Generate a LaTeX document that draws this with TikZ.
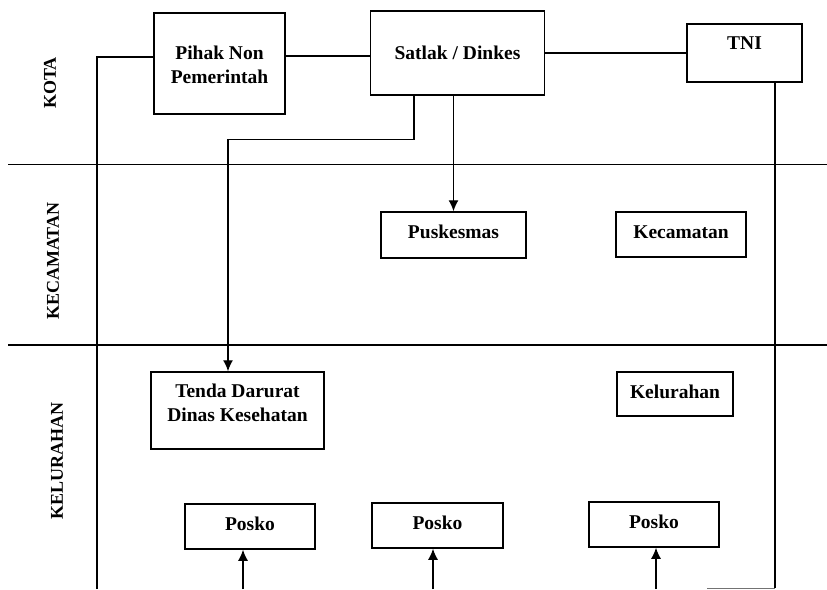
\documentclass[tikz,border=0pt]{standalone}
\usepackage{fontspec}
\setmainfont{Liberation Serif}
\usetikzlibrary{arrows.meta}
\begin{document}
\begin{tikzpicture}[x=1pt,y=-1pt,
  every path/.style={line width=1.3pt},
  box/.style={draw,line width=1.5pt,rectangle,inner sep=0pt,font=\fontsize{19.5}{23}\selectfont\bfseries,align=center},
  txt/.style={inner sep=0pt,font=\fontsize{19.5}{24}\selectfont\bfseries,align=center},
  lane/.style={inner sep=0pt,rotate=90,font=\fontsize{18}{20}\selectfont\bfseries},
  arr/.style={-{Latex[length=11pt,width=10pt]}},
  faint/.style={line width=0.9pt,draw=black!55}]
\useasboundingbox (0,0) rectangle (827,589);
% lane dividers
\coordinate (d1l) at (8,164.5); \coordinate (d1r) at (827,164.5);
\coordinate (d2l) at (8,345); \coordinate (d2r) at (827,345);
\draw (d1l) -- (d1r);
\draw (d2l) -- (d2r);
% lane labels
\node[lane] (kota) at (50,83) {KOTA};
\node[lane] (kec) at (53,261) {KECAMATAN};
\node[lane] (kel) at (57,461) {KELURAHAN};
% boxes
\node[box,minimum width=131,minimum height=101] (pihak) at (219.5,63.5) {};
\node[txt] (pihakt) at (219.5,65) {Pihak Non\\Pemerintah};
\node[box,minimum width=174,minimum height=84] (satlak) at (457.5,53) {Satlak / Dinkes};
\node[box,minimum width=115,minimum height=58] (tni) at (744.5,53) {};
\node[txt] (tnit) at (744.5,43) {TNI};
\node[box,minimum width=145,minimum height=46] (pusk) at (453.5,235) {};
\node[txt] (puskt) at (453.5,232) {Puskesmas};
\node[box,minimum width=130,minimum height=45] (kecb) at (681,234.5) {};
\node[txt] (kecbt) at (681,232) {Kecamatan};
\node[box,minimum width=173,minimum height=77] (tenda) at (237.5,410.5) {};
\node[txt] (tendat) at (237.5,403) {Tenda Darurat\\Dinas Kesehatan};
\node[box,minimum width=116,minimum height=44] (kelb) at (675,394) {};
\node[txt] (kelbt) at (675,392) {Kelurahan};
\node[box,minimum width=130,minimum height=45] (posko1) at (250,526.5) {};
\node[txt] (posko1t) at (250,524) {Posko};
\node[box,minimum width=131,minimum height=45] (posko2) at (437.5,525.5) {};
\node[txt] (posko2t) at (437.5,523) {Posko};
\node[box,minimum width=130,minimum height=45] (posko3) at (654,524.5) {};
\node[txt] (posko3t) at (654,522) {Posko};
% connectors
\coordinate (lb) at (97,589);
\draw (lb) |- ([yshift=6.5]pihak.west);
\draw (pihak.east |- 0,56) -- (satlak.west |- 0,56);
\draw (satlak.east) -- (tni.west);
\coordinate (bc) at (775,588);
\coordinate (br) at (707,588);
\draw ([xshift=30.5]tni.south) -- (bc);
\draw[faint] (bc) -- (br);
\draw[arr] ([xshift=-43.5]satlak.south) -- ++(0,44) -| ([xshift=-9.5]tenda.north);
\draw[arr] (satlak.south -| pusk.north) -- (pusk.north);
\coordinate (p1b) at (243,589);
\coordinate (p2b) at (433,589);
\coordinate (p3b) at (656,589);
\draw[arr] (p1b) -- (p1b |- posko1.south);
\draw[arr] (p2b) -- (p2b |- posko2.south);
\draw[arr] (p3b) -- (p3b |- posko3.south);
\end{tikzpicture}
\end{document}
